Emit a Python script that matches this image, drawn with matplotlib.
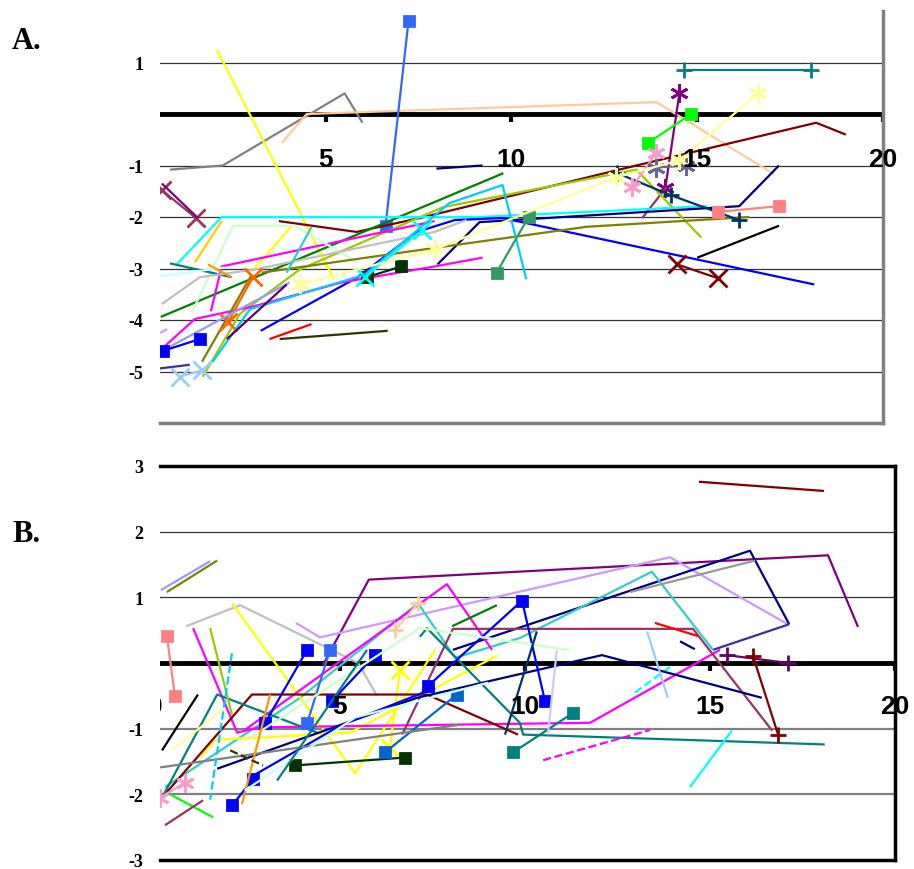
import numpy as np
import matplotlib
matplotlib.use("Agg")
import matplotlib.pyplot as plt

# ---- panel A data ----
A_x = [
    [0.81, 2.23, 5.51, 5.99],
    [2.07, 5.22],
    [3.01, 4.09],
    [3.82, 4.49, 13.9, 17.07],
    [6.61, 7.23],
    [7.98, 9.22],
    [14.65, 18.06],
    [14.52, 14.14],
    [13.52, 14.17],
    [13.68, 14.84],
    [3.74, 5.83, 7.53, 13.36, 18.2, 19.0],
    [1.69, 2.69, 4.30, 8.15, 13.36, 15.11],
    [0.56, 9.78],
    [0.99, 2.2, 9.14, 15.27],
    [8.01, 9.14, 16.13, 17.2],
    [3.25, 5.86, 7.45, 8.47, 9.76, 18.15],
    [0.59, 1.48, 3.09, 5.43, 7.93, 9.22],
    [1.91, 2.2, 7.93],
    [1.40, 2.5, 4.17, 5.86],
    [1.48, 2.2],
    [0.81, 2.47],
    [0.54, 2.28],
    [0.59, 1.61, 3.09, 7.93, 8.79],
    [1.67, 3.01],
    [3.28, 7.93, 12.02, 16.4],
    [2.37, 3.04],
    [1.83, 2.47],
    [6.1, 7.04],
    [6.05, 7.6],
    [6.05, 8.33, 9.76, 10.4],
    [1.96, 2.96, 6.05],
    [0.59, 4.03],
    [0.62, 1.61],
    [2.34, 3.95],
    [3.49, 4.62],
    [3.76, 6.67],
    [0.54, 1.34],
    [1.08, 1.67],
    [0.59, 1.51],
    [0.59, 1.56],
    [12.85, 14.3, 16.13],
    [13.9, 13.25],
    [13.9, 14.7],
    [15.56, 17.2],
    [15.0, 17.2],
    [14.46, 15.56],
    [9.6, 10.46],
    [3.95, 4.62],
    [4.3, 7.93, 12.82, 14.52, 16.64],
    [0.54, 0.81],
]
A_y = [
    [-1.08, -1.0, 0.40, -0.17],
    [1.25, -3.21],
    [-3.06, -2.17],
    [-0.56, 0.0, 0.23, -1.17],
    [-2.17, 1.81],
    [-1.06, -1.0],
    [0.85, 0.85],
    [0.40, -1.44],
    [-2.02, -1.42],
    [-0.56, 0.0],
    [-2.08, -2.29, -2.02, -1.0, -0.17, -0.40],
    [-5.10, -3.88, -3.02, -1.81, -1.08, -2.40],
    [-3.94, -1.15],
    [-2.92, -2.0, -2.0, -1.79],
    [-2.92, -2.1, -1.79, -1.0],
    [-4.21, -3.17, -2.29, -2.06, -2.02, -3.31],
    [-4.56, -3.98, -3.73, -3.27, -2.96, -2.79],
    [-3.83, -2.96, -2.08],
    [-3.85, -2.17, -2.17, -2.88],
    [-2.88, -2.08],
    [-2.9, -3.17],
    [-3.15, -2.98],
    [-3.69, -3.17, -3.02, -2.29, -2.06],
    [-4.81, -3.12],
    [-3.08, -2.60, -2.19, -2.0],
    [-4.04, -3.17],
    [-2.92, -3.17],
    [-3.17, -2.96],
    [-3.17, -2.25],
    [-3.12, -1.73, -1.38, -3.21],
    [-4.81, -3.79, -3.12],
    [-4.6, -3.27],
    [-4.6, -4.37],
    [-4.37, -3.31],
    [-4.37, -4.08],
    [-4.37, -4.21],
    [-4.94, -4.87],
    [-5.1, -4.98],
    [-1.48, -2.02],
    [-1.35, -2.02],
    [-1.15, -1.58, -2.06],
    [-0.75, -1.42],
    [-1.04, -1.0],
    [-1.9, -1.79],
    [-2.79, -2.17],
    [-2.92, -3.19],
    [-3.08, -2.0],
    [-3.08, -2.19],
    [-3.31, -2.63, -1.23, -0.90, 0.40],
    [-4.25, -4.15],
]
A_colors = ['#808080', '#FFFF00', '#FFFF00', '#FFCC99', '#3366FF', '#000080',
            '#008080', '#800080', '#993366', '#00FF00', '#800000', '#99CC00',
            '#008000', '#00FFFF', '#000080', '#0000FF', '#FF00FF', '#FF00FF',
            '#CCFFCC', '#FFCC00', '#008080', '#CCFFFF', '#C0C0C0', '#808000',
            '#808000', '#FF6600', '#FF9900', '#003300', '#00FFFF', '#00CCFF',
            '#00CCFF', '#9999FF', '#0000FF', '#660066', '#FF0000', '#333300',
            '#333399', '#99CCFF', '#993366', '#800080', '#003366', '#FF99CC',
            '#666699', '#FF8080', '#000000', '#800000', '#339966', '#33CCCC',
            '#FFFF99', '#CC99FF']
A_markers = ['', '', '', '', 's', '', '+', 'a', '', 's', '', '',
             '', '', '', '', '', '', '', '', '', '', '', '',
             '', 'x', '', 's', 'x', '', '', '', 's', '', '', '',
             '', 'x', 'x', '', '+', 'a', 'a', 's', '', 'x', 's', '',
             'a', '']
A_dash = ['-'] * 49 + ['--']

# ---- panel B data ----
B_x = [
    [14.7, 18.08],
    [4.54, 5.78, 18.19, 19.0],
    [3.81, 4.46, 13.92, 17.1],
    [8.05, 16.08, 17.14],
    [17.14, 15.08],
    [0.27, 3.92, 7.11, 8.11, 9.86, 13.43, 15.08],
    [12.84, 16.22],
    [0.16, 1.49],
    [0.32, 1.68],
    [0.84, 2.3, 5.49, 6.0],
    [2.08, 5.41, 7.57],
    [1.22, 1.62, 5.27, 9.24],
    [6.35, 6.62],
    [1.03, 2.22, 2.84, 11.76, 15.27],
    [2.43, 7.89, 9.11],
    [0.19, 2.62, 7.35, 9.81],
    [6.68, 8.05, 14.54, 16.68],
    [0.19, 1.68, 4.38],
    [7.16, 7.35, 9.86, 9.95, 18.1],
    [9.68, 11.3],
    [10.49, 13.38],
    [12.97, 13.92],
    [14.46, 15.59],
    [13.51, 14.68],
    [14.19, 14.59],
    [15.46, 17.11],
    [16.16, 16.84],
    [1.68, 7.08, 12.08, 16.4],
    [2.08, 2.65],
    [2.97, 4.11],
    [4.11, 4.73],
    [4.78, 5.95],
    [7.38, 9.92, 10.54],
    [2.7, 5.05, 7.57],
    [3.78, 6.76],
    [6.22, 8.16],
    [0.32, 0.54],
    [0.19, 1.16],
    [0.41, 1.57],
    [0.27, 1.3],
    [0.14, 0.81],
    [0.14, 8.24],
    [2.57, 7.16, 11.2],
    [8.03, 9.24],
    [6.49, 7.11],
    [13.3, 13.86],
    [10.86, 10.62],
    [10.32, 9.46],
    [1.49, 2.08],
    [2.08, 1.49],
    [3.11, 2.35],
    [2.03, 2.92],
    [0.46, 1.89],
    [2.43, 5.41, 9.0],
    [3.3, 5.73],
]
B_y = [
    [2.76, 2.62],
    [-0.03, 1.27, 1.64, 0.55],
    [0.61, 0.39, 1.61, 0.59],
    [0.2, 1.71, 0.59],
    [0.59, 0.2],
    [-1.89, -0.53, 0.91, 0.08, 0.38, 1.39, 0.2],
    [1.08, 1.56],
    [1.11, 1.55],
    [1.08, 1.56],
    [0.56, 0.88, 0.0, -0.5],
    [0.91, -1.68, 0.2],
    [-1.44, -1.17, -1.06, 0.11],
    [-1.29, -0.11],
    [0.53, -1.06, -0.98, -0.91, 0.2],
    [-1.02, 1.2, 0.2],
    [-2.05, -0.48, -0.48, -1.09],
    [-1.09, 0.52, 0.52, -1.03],
    [-2.05, -0.48, -1.06],
    [0.4, 0.53, -0.91, -1.09, -1.24],
    [-1.36, -0.76],
    [-1.48, -1.02],
    [-0.45, -0.06],
    [-1.89, -1.03],
    [0.61, 0.41],
    [0.33, 0.21],
    [0.12, 0.0],
    [0.11, -1.09],
    [-1.61, -0.53, 0.12, -0.53],
    [-2.17, -1.77],
    [-0.92, 0.2],
    [-0.92, 0.2],
    [-0.58, 0.12],
    [-0.35, 0.95, -0.58],
    [-1.7, -0.94, -0.38],
    [-1.56, -1.44],
    [-1.36, -0.48],
    [0.41, -0.5],
    [-1.33, -0.48],
    [-2.0, -2.35],
    [-2.47, -2.09],
    [-2.05, -1.82],
    [-1.59, -0.94],
    [-1.14, 0.53, 0.2],
    [0.56, 0.88],
    [0.5, 0.91],
    [0.48, -0.53],
    [0.2, -1.09],
    [0.48, -1.09],
    [0.53, -0.79],
    [0.15, -2.08],
    [-0.48, -2.15],
    [-1.33, -1.56],
    [-1.33, -0.68],
    [-1.94, -0.83, -0.3],
    [-1.79, 0.2],
]
B_colors = ['#800000', '#800080', '#CC99FF', '#000080', '#333399', '#33CCCC',
            '#999999', '#9999FF', '#808000', '#C0C0C0', '#FFFF00', '#FFFF00',
            '#FFFF00', '#FF00FF', '#FF00FF', '#800000', '#993366', '#008080',
            '#008080', '#008080', '#FF00FF', '#00FFFF', '#00FFFF', '#FF0000',
            '#000080', '#660066', '#800000', '#000080', '#0000FF', '#0000FF',
            '#3366FF', '#0000FF', '#0000FF', '#0000FF', '#003300', '#0066CC',
            '#FF8080', '#000000', '#00FF00', '#993366', '#FF99CC', '#808080',
            '#CCFFCC', '#008000', '#FFCC99', '#99CCFF', '#CCCCFF', '#003366',
            '#99CC00', '#00CCFF', '#FF9900', '#333300', '#FFFF99', '#CCFFFF',
            '#008080']
B_markers = ['', '', '', '', '', '', '', '', '', '', '', '',
             'x', '', '', '', '', '', '', 's', '', '', '', '',
             '', '+', '+', '', 's', 's', 's', 's', 's', '', 's', 's',
             's', '', '', '', 'a', '', '', '', '+', '', '', '',
             '', '', '', '', '', '', '']
B_dash = ['-'] * 55
for i in (20, 21, 49, 51):
    B_dash[i] = '--'

xtick_vals = [0, 5, 10, 15, 20]
A_yticks = [-5, -4, -3, -2, -1, 1]
B_yticks = [-3, -2, -1, 1, 2, 3]

ASTER = (6, 2, 0)
MS = {'s': 7, 'x': 13, 'a': 13, '+': 12}


def draw_series(ax, xs, ys, colors, markers, dashes):
    for x, y, c, m, d in zip(xs, ys, colors, markers, dashes):
        mk = ASTER if m == 'a' else (m if m else None)
        ax.plot(x, y, color=c, lw=1.6, ls=d, marker=mk, ms=MS.get(m, 0),
                mew=2, mfc=c, mec=c, zorder=3, solid_capstyle='butt')


def setup(ax, ylo, yhi, xlo, label_y, tick_len, spine_col, yticks):
    ax.set_xlim(xlo, 20)
    ax.set_ylim(ylo, yhi)
    ax.set_xticks([])
    ax.set_yticks(yticks)
    ax.set_yticklabels([str(v) for v in yticks], fontfamily='Liberation Serif',
                       fontweight='bold', fontsize=13)
    ax.tick_params(axis='y', length=0, pad=12)
    ax.spines['left'].set_visible(False)
    for s in ('right', 'bottom', 'top'):
        ax.spines[s].set_color(spine_col)
        ax.spines[s].set_linewidth(2.5)
    ax.axhline(0, color='black', lw=3.5, zorder=2)
    ax.vlines([v for v in xtick_vals if v > xlo], -tick_len, 0,
              color='black', lw=3, zorder=2)
    for v in xtick_vals:
        if v < xlo - 0.4:
            continue  # label falls fully outside the plot area
        ax.text(v, label_y, str(v), ha='center', va='center', fontsize=19,
                fontweight='bold', fontfamily='Liberation Sans',
                clip_on=(v == 0), zorder=4)


fig = plt.figure(figsize=(9.14, 8.70), dpi=100)

axA = fig.add_axes([160 / 914, 1 - 424 / 870, 723 / 914, 412 / 870])
setup(axA, -6, 2, 0.54, -0.88, 0.15, '#808080', A_yticks)
axA.spines['top'].set_visible(False)
for v in A_yticks:
    axA.axhline(v, color='#333333', lw=0.9, zorder=1)
draw_series(axA, A_x, A_y, A_colors, A_markers, A_dash)

axB = fig.add_axes([160 / 914, 1 - 861 / 870, 735 / 914, 394 / 870])
setup(axB, -3, 3, 0.135, -0.65, 0.12, 'black', B_yticks)
for v in (1, 2):
    axB.axhline(v, color='#333333', lw=0.9, zorder=1)
for v in (-1, -2):
    axB.axhline(v, color='#808080', lw=1.6, zorder=1)
draw_series(axB, B_x, B_y, B_colors, B_markers, B_dash)

fig.text(12 / 914, 1 - 49 / 870, 'A.', fontsize=22, fontweight='bold',
         fontfamily='Liberation Serif', va='baseline')
fig.text(12 / 914, 1 - 542 / 870, 'B.', fontsize=22, fontweight='bold',
         fontfamily='Liberation Serif', va='baseline')

fig.savefig('out.png', dpi=100)
